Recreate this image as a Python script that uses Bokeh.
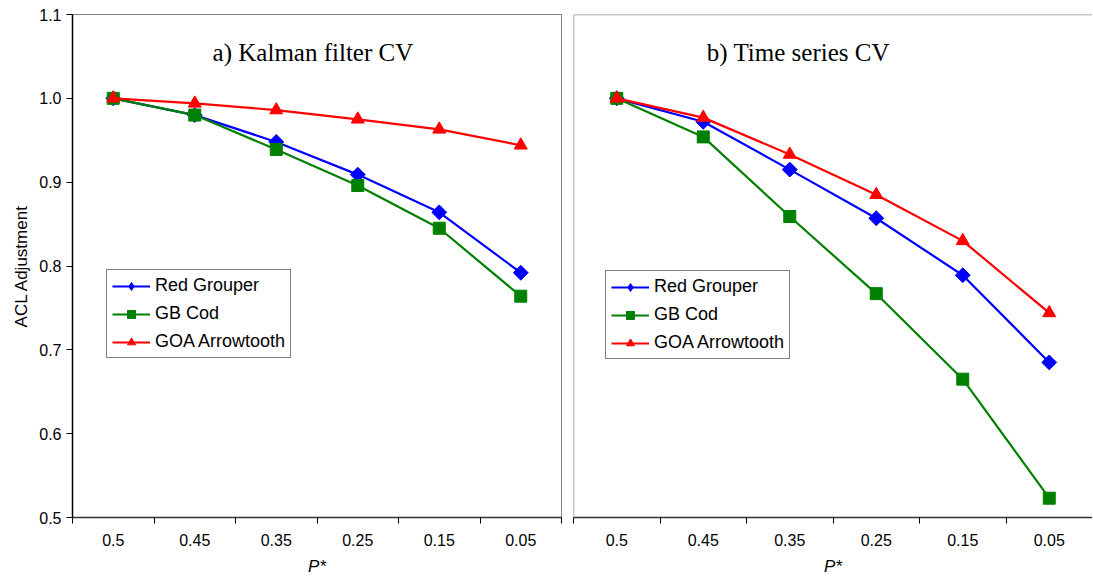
import numpy as np
from bokeh.plotting import figure
from bokeh.layouts import row
from bokeh.models import Range1d, FixedTicker, Label, Span, Legend, LegendItem
from bokeh.embed import file_html
from bokeh.resources import INLINE

# ---------------- data ----------------
p_star = ["0.5", "0.45", "0.35", "0.25", "0.15", "0.05"]
series_names = ["Red Grouper", "GB Cod", "GOA Arrowtooth"]

kalman_red_grouper = [1.000, 0.980, 0.948, 0.909, 0.864, 0.792]
kalman_gb_cod = [1.000, 0.980, 0.939, 0.896, 0.845, 0.764]
kalman_goa_arrowtooth = [1.000, 0.994, 0.986, 0.975, 0.963, 0.944]

ts_red_grouper = [1.000, 0.972, 0.915, 0.857, 0.789, 0.685]
ts_gb_cod = [1.000, 0.954, 0.859, 0.767, 0.665, 0.523]
ts_goa_arrowtooth = [1.000, 0.977, 0.933, 0.885, 0.830, 0.744]

y_ticks = [0.5, 0.6, 0.7, 0.8, 0.9, 1.0, 1.1]
y_tick_labels = ["0.5", "0.6", "0.7", "0.8", "0.9", "1.0", "1.1"]

panel_titles = ["a) Kalman filter CV", "b) Time series CV"]

# ---------------- styles ----------------
colors = ["#0000FF", "#008000", "#FF0000"]
markers = ["square", "square", "triangle"]
angles = [np.pi / 4, 0.0, 0.0]
sizes = [10.5, 12, 13]
legend_markers = ["diamond", "square", "triangle"]
legend_sizes = [18, 10, 12]

x_pos = [i + 0.5 for i in range(len(p_star))]
x_bounds = list(range(len(p_star) + 1))

SANS = "Liberation Sans"
SERIF = "Liberation Serif"

y_range = Range1d(0.5, 1.1)


def make_panel(width, left_border, right_border, data, title, title_x, show_y, legend_loc):
    p = figure(width=width, height=578, output_backend="svg", toolbar_location=None,
               x_range=Range1d(0, len(p_star)), y_range=y_range,
               min_border_left=left_border, min_border_right=right_border,
               min_border_top=14, min_border_bottom=61,
               y_axis_location="left" if show_y else None)
    p.xgrid.visible = False
    p.ygrid.visible = False
    p.background_fill_color = "white"
    p.border_fill_color = "white"
    if show_y:
        p.outline_line_color = "#808080"
    else:
        p.outline_line_color = None
        p.add_layout(Span(location=0, dimension="height", line_color="#909090", line_width=1.5))
        p.add_layout(Span(location=1.1, dimension="width", line_color="#909090", line_width=1.5))

    # x axis
    xa = p.xaxis[0]
    xa.ticker = FixedTicker(ticks=x_pos, minor_ticks=x_bounds)
    xa.major_label_overrides = {x: lab for x, lab in zip(x_pos, p_star)}
    xa.major_tick_line_color = None
    xa.major_tick_out = 6
    xa.major_tick_in = 0
    xa.minor_tick_out = 6
    xa.minor_tick_in = 0
    xa.minor_tick_line_color = "black"
    xa.axis_line_color = "#333333"
    xa.axis_line_width = 1.5
    xa.major_label_standoff = 10
    xa.major_label_text_font = SANS
    xa.major_label_text_font_size = "16px"
    xa.major_label_text_color = "black"
    xa.axis_label = "P*"
    xa.axis_label_text_font = SANS
    xa.axis_label_text_font_size = "17px"
    xa.axis_label_text_font_style = "italic"
    xa.axis_label_text_color = "black"
    xa.axis_label_standoff = 8

    if show_y:
        ya = p.yaxis[0]
        ya.ticker = FixedTicker(ticks=y_ticks)
        ya.major_label_overrides = {v: lab for v, lab in zip(y_ticks, y_tick_labels)}
        ya.major_tick_out = 6
        ya.major_tick_in = 0
        ya.minor_tick_line_color = None
        ya.axis_line_color = "black"
        ya.axis_line_width = 1.5
        ya.major_tick_line_color = "black"
        ya.major_label_text_font = SANS
        ya.major_label_text_font_size = "16px"
        ya.major_label_text_color = "black"
        ya.axis_label = "ACL Adjustment"
        ya.axis_label_text_font = SANS
        ya.axis_label_text_font_size = "17px"
        ya.axis_label_text_font_style = "normal"
        ya.axis_label_text_color = "black"
        ya.axis_label_standoff = 5

    items = []
    for name, vals, c, m, a, s, lm, ls in zip(series_names, data, colors, markers, angles,
                                              sizes, legend_markers, legend_sizes):
        ln = p.line(x_pos, vals, line_color=c, line_width=2.2)
        p.scatter(x_pos, vals, marker=m, size=s, angle=a,
                  fill_color=c, line_color=c, line_width=1)
        # legend-only glyph (no data drawn) so the legend shows the proper marker shape
        lg = p.scatter([np.nan], [np.nan], marker=lm, size=ls,
                       fill_color=c, line_color=c, line_width=1)
        items.append(LegendItem(label=name, renderers=[ln, lg]))

    legend = Legend(items=items, location=legend_loc)
    legend.border_line_color = "black"
    legend.border_line_width = 1
    legend.background_fill_color = "white"
    legend.background_fill_alpha = 1
    legend.label_text_font = SANS
    legend.label_text_font_size = "18px"
    legend.label_text_color = "black"
    legend.glyph_width = 38
    legend.glyph_height = 20
    legend.label_height = 20
    legend.spacing = 7
    legend.padding = 5
    legend.margin = 0
    legend.label_standoff = 5
    p.add_layout(legend, "center")

    p.add_layout(Label(x=title_x, y=1.055, text=title, text_align="center",
                       text_baseline="middle", text_font=SERIF,
                       text_font_size="25px", text_color="black"))
    return p


p1 = make_panel(567, 72, 6,
                [kalman_red_grouper, kalman_gb_cod, kalman_goa_arrowtooth],
                panel_titles[0], 2.95, True, (34, 159))
p2 = make_panel(525, 6, 0,
                [ts_red_grouper, ts_gb_cod, ts_goa_arrowtooth],
                panel_titles[1], 2.6, False, (32, 158))

layout = row(p1, p2)
open("out.html", "w").write(file_html(layout, INLINE))
